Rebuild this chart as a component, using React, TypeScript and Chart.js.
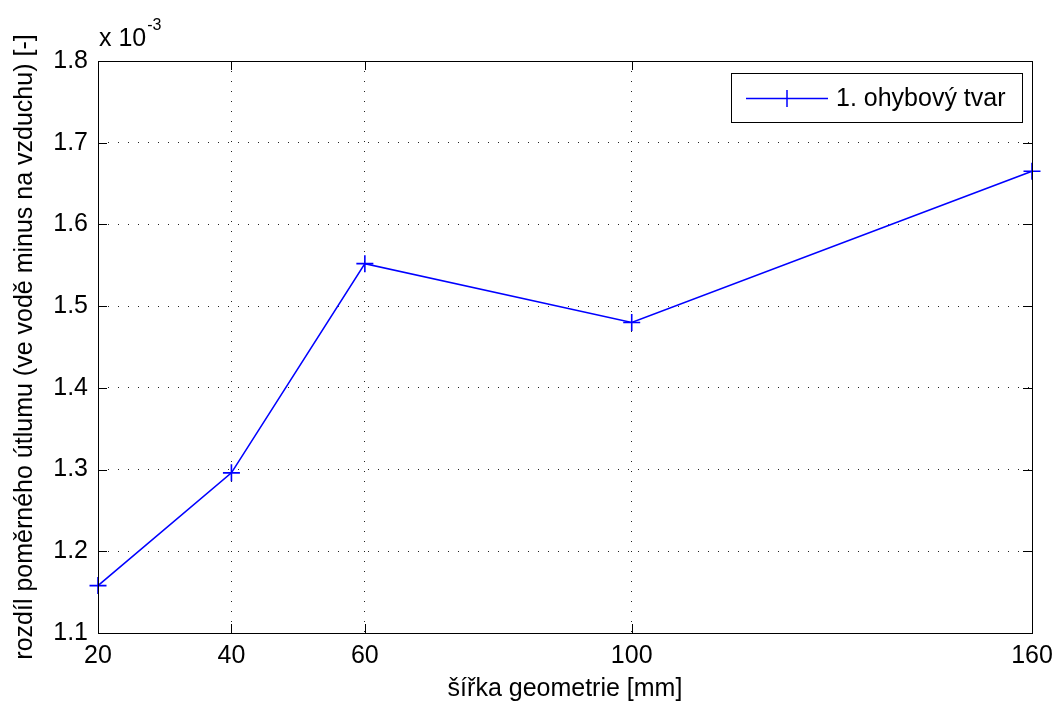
import React, { useEffect, useRef } from "react";
import { Chart, registerables } from "chart.js";

Chart.register(...registerables);

const widths = [20, 40, 60, 100, 160];
const damping = [1.158, 1.296, 1.552, 1.480, 1.665];
const xTicks = [20, 40, 60, 100, 160];
const yTicks = [1.1, 1.2, 1.3, 1.4, 1.5, 1.6, 1.7, 1.8];
const seriesLabel = "1. ohybový tvar";
const xTitle = "šířka geometrie [mm]";
const yTitle = "rozdíl poměrného útlumu (ve vodě minus na vzduchu) [-]";

const FONT = "'Liberation Sans', Arial, sans-serif";
const FS = 25;
const BLUE = "#0000ff";

const decorPlugin = {
  id: "decor",
  afterDatasetsDraw(chart: any) {
    const { ctx, chartArea } = chart;
    const { left, right, top, bottom } = chartArea;
    const xs = chart.scales.x;
    const ys = chart.scales.y;
    ctx.save();
    ctx.strokeStyle = "#000";
    ctx.lineWidth = 1;
    ctx.setLineDash([]);
    // box
    ctx.strokeRect(Math.round(left) + 0.5, Math.round(top) + 0.5, Math.round(right - left), Math.round(bottom - top));
    // inward ticks
    const tl = 9;
    ctx.beginPath();
    xTicks.forEach((v) => {
      const px = Math.round(xs.getPixelForValue(v)) + 0.5;
      ctx.moveTo(px, bottom);
      ctx.lineTo(px, bottom - tl);
      ctx.moveTo(px, top);
      ctx.lineTo(px, top + tl);
    });
    yTicks.forEach((v) => {
      const py = Math.round(ys.getPixelForValue(v)) + 0.5;
      ctx.moveTo(left, py);
      ctx.lineTo(left + tl, py);
      ctx.moveTo(right, py);
      ctx.lineTo(right - tl, py);
    });
    ctx.stroke();

    // exponent label
    ctx.fillStyle = "#000";
    ctx.textBaseline = "alphabetic";
    ctx.textAlign = "left";
    ctx.font = `${FS}px ${FONT}`;
    ctx.fillText("x 10", 99, 46);
    const w = ctx.measureText("x 10").width;
    ctx.font = `16px ${FONT}`;
    ctx.fillText("-3", 99 + w + 1, 30);

    // legend
    const lx0 = 731, ly0 = 73, lx1 = 1022, ly1 = 122;
    ctx.fillStyle = "#fff";
    ctx.fillRect(lx0, ly0, lx1 - lx0, ly1 - ly0);
    ctx.strokeStyle = "#000";
    ctx.lineWidth = 1;
    ctx.strokeRect(lx0 + 0.5, ly0 + 0.5, lx1 - lx0, ly1 - ly0);
    const my = Math.round((ly0 + ly1) / 2) + 0.5;
    ctx.strokeStyle = BLUE;
    ctx.lineWidth = 1.5;
    ctx.beginPath();
    ctx.moveTo(746, my);
    ctx.lineTo(828, my);
    ctx.moveTo(787, my - 8.5);
    ctx.lineTo(787, my + 8.5);
    ctx.stroke();
    ctx.fillStyle = "#000";
    ctx.font = `${FS}px ${FONT}`;
    ctx.textBaseline = "middle";
    ctx.fillText(seriesLabel, 836, my + 1);
    ctx.restore();
  },
};

export default function App() {
  const ref = useRef<HTMLCanvasElement>(null);
  useEffect(() => {
    if (!ref.current) return;
    const chart = new Chart(ref.current, {
      type: "line",
      data: {
        datasets: [
          {
            label: seriesLabel,
            data: widths.map((x, i) => ({ x, y: damping[i] })),
            borderColor: BLUE,
            backgroundColor: BLUE,
            borderWidth: 1.6,
            pointStyle: "cross",
            pointRadius: 8.5,
            pointBorderWidth: 1.6,
            pointBorderColor: BLUE,
            tension: 0,
            fill: false,
            clip: false as any,
          },
        ],
      },
      options: {
        responsive: false,
        animation: false,
        devicePixelRatio: 1,
        layout: { padding: { top: 61, right: 22, left: 0, bottom: 0 } },
        plugins: { legend: { display: false }, tooltip: { enabled: false } },
        scales: {
          x: {
            type: "linear",
            min: 20,
            max: 160,
            afterBuildTicks: (s: any) => {
              s.ticks = xTicks.map((v) => ({ value: v }));
            },
            afterFit: (s: any) => {
              s.height = 73;
              s.paddingLeft = 0;
              s.paddingRight = 0;
            },
            ticks: {
              color: "#000",
              font: { family: FONT, size: FS },
              padding: 8,
              maxRotation: 0,
              autoSkip: false,
              callback: (v: any) => String(v),
            },
            grid: { color: "#222", lineWidth: 1, drawTicks: false },
            border: { display: false, dash: [1, 9] },
            title: {
              display: true,
              text: xTitle,
              color: "#000",
              font: { family: FONT, size: FS },
              padding: { top: 0, bottom: 2 },
            },
          },
          y: {
            type: "linear",
            min: 1.1,
            max: 1.8,
            afterBuildTicks: (s: any) => {
              s.ticks = yTicks.map((v) => ({ value: v }));
            },
            afterFit: (s: any) => {
              s.width = 98;
              s.paddingTop = 0;
              s.paddingBottom = 0;
            },
            ticks: {
              color: "#000",
              font: { family: FONT, size: FS },
              padding: 10,
              autoSkip: false,
              callback: (v: any) => Number(v).toFixed(1),
            },
            grid: { color: "#222", lineWidth: 1, drawTicks: false },
            border: { display: false, dash: [1, 9] },
            title: {
              display: true,
              text: yTitle,
              color: "#000",
              font: { family: FONT, size: FS },
              padding: { top: 10, bottom: 0 },
            },
          },
        },
      },
      plugins: [decorPlugin],
    } as any);
    return () => chart.destroy();
  }, []);
  return (
    <div style={{ position: "absolute", left: 0, top: 0, width: 1054, height: 706, background: "#fff" }}>
      <canvas ref={ref} width={1054} height={706} style={{ display: "block" }} />
    </div>
  );
}
